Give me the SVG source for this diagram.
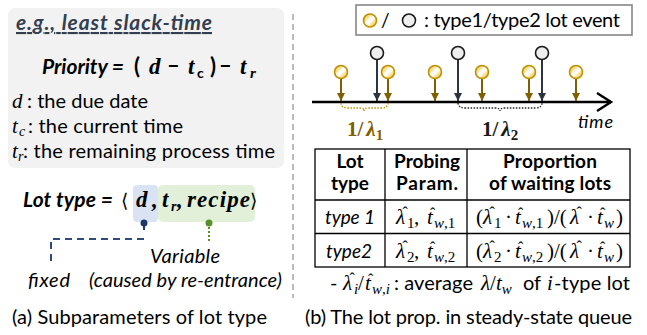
<svg xmlns="http://www.w3.org/2000/svg" width="647" height="335" viewBox="0 0 647 335">
<defs>
<style>
.sans{font-family:Lato,"Liberation Sans",sans-serif;fill:#000}
.bi{font-family:Lato,"Liberation Sans",sans-serif;font-weight:bold;font-style:italic}
.m{font-family:"Liberation Serif","DejaVu Serif",serif;font-style:italic}
.mb{font-family:"Liberation Serif","DejaVu Serif",serif;font-style:italic;font-weight:bold}
.up{font-style:normal}
.hat{font-size:16px;font-style:normal}
.sub{font-size:15px}
.grid{fill:none;stroke:#000;stroke-width:1.3}
.stem1{stroke:#7f6000;stroke-width:2;fill:none}
.stem2{stroke:#2b3440;stroke-width:2;fill:none}
.ev1{fill:url(#hatch);stroke:#bf9000;stroke-width:1.6}
.ev2{fill:#eeeeee;stroke:#1a1a1a;stroke-width:1.6}
</style>
<linearGradient id="hatch" x1="0" y1="0" x2="1" y2="1">
<stop offset="0" stop-color="#f3c94c"/>
<stop offset="0.3" stop-color="#fbe08c"/>
<stop offset="0.44" stop-color="#ffffff"/>
<stop offset="0.56" stop-color="#ffffff"/>
<stop offset="0.7" stop-color="#fbe08c"/>
<stop offset="1" stop-color="#f3c94c"/>
</linearGradient>
<marker id="h1" viewBox="0 0 10 10" refX="10" refY="5" markerWidth="10" markerHeight="8" markerUnits="userSpaceOnUse" orient="auto">
<path d="M0,0 L10,5 L0,10 z" fill="#7f6000"/>
</marker>
<marker id="h2" viewBox="0 0 10 10" refX="10" refY="5" markerWidth="10" markerHeight="8" markerUnits="userSpaceOnUse" orient="auto">
<path d="M0,0 L10,5 L0,10 z" fill="#2b3440"/>
</marker>
</defs>
<rect width="647" height="335" fill="#fff"/>

<!-- (a) priority rule box -->
<g id="priority-box">
<rect x="8" y="8" width="276" height="160" rx="7" fill="#f2f2f2"/>
<text x="16" y="30" class="bi" font-size="21" fill="#333f50" text-decoration="underline" textLength="196">e.g., least slack-time</text>
<text x="42" y="74" class="bi" font-size="21" textLength="82">Priority =</text>
<text x="134" y="74" class="sans" font-size="22" font-weight="bold">(</text>
<text x="149" y="74" class="mb" font-size="23">d</text>
<text x="167" y="73" class="sans" font-size="22" font-weight="bold">–</text>
<text x="188" y="74" class="mb" font-size="23">t</text>
<text x="197" y="78" class="sans" font-size="14" font-weight="bold">c</text>
<text x="210" y="74" class="sans" font-size="22" font-weight="bold">)</text>
<text x="219" y="73" class="sans" font-size="22" font-weight="bold">–</text>
<text x="240" y="74" class="mb" font-size="23">t</text>
<text x="250" y="78" class="mb" font-size="15">r</text>

<text x="12" y="108" class="m" font-size="21">d</text>
<text x="27" y="108" class="sans" font-size="20" textLength="121">: the due date</text>
<text x="12" y="133" class="m" font-size="21">t</text>
<text x="19" y="136" class="m" font-size="14">c</text>
<text x="28" y="133" class="sans" font-size="20" textLength="155">: the current time</text>
<text x="12" y="158" class="m" font-size="21">t</text>
<text x="18" y="161" class="m" font-size="14">r</text>
<text x="23" y="158" class="sans" font-size="20" textLength="252">: the remaining process time</text>
</g>

<!-- panel divider -->
<line x1="293" y1="14" x2="293" y2="298" stroke="#a6a6a6" stroke-width="1.5" stroke-dasharray="6,4"/>

<!-- (a) lot type tuple -->
<g id="lot-type">
<rect x="133" y="185" width="25" height="37" rx="4" fill="#dae3f3"/>
<rect x="158" y="185" width="97" height="37" rx="5" fill="#e2f0d9"/>
<text x="23" y="207" class="bi" font-size="21" textLength="90">Lot type =</text>
<text x="121" y="207" font-family="DejaVu Serif,serif" font-size="19">⟨</text>
<text x="136" y="207" class="mb" font-size="23">d</text>
<text x="152" y="207" class="mb" font-size="23">,</text>
<text x="162" y="207" class="mb" font-size="23">t</text>
<text x="171" y="211" class="mb" font-size="14">r</text>
<text x="177" y="207" class="mb" font-size="23">,</text>
<text x="187" y="207" class="mb" font-size="23" textLength="63">recipe</text>
<text x="250" y="207" font-family="DejaVu Serif,serif" font-size="19">⟩</text>
</g>

<g id="fixed-label">
<circle cx="144" cy="223" r="3.5" fill="#1f3864"/>
<line x1="144" y1="223" x2="144" y2="230" stroke="#1f3864" stroke-width="2"/>
<path d="M144,239 H51 V262" fill="none" stroke="#2f4b7c" stroke-width="2" stroke-dasharray="7,5"/>
<text x="28" y="287" class="sans" font-size="20" font-style="italic" fill="#2f4b7c" textLength="42">fixed</text>
</g>

<g id="variable-label">
<circle cx="209" cy="223" r="3.5" fill="#5b8f2e"/>
<line x1="209" y1="227" x2="209" y2="243" stroke="#5b8f2e" stroke-width="2" stroke-dasharray="2,2"/>
<text x="150" y="263" class="sans" font-size="20" font-style="italic" fill="#4f7a2d" textLength="70">Variable</text>
<text x="89" y="287" class="sans" font-size="20" font-style="italic" fill="#4f7a2d" textLength="193">(caused by re-entrance)</text>
</g>

<text x="12" y="324" class="sans" font-size="20" textLength="255">(a) Subparameters of lot type</text>

<!-- (b) legend -->
<g id="legend">
<rect x="356" y="5" width="276" height="30" fill="#fff" stroke="#7f7f7f" stroke-width="1.5"/>
<circle cx="370" cy="20.5" r="6.5" class="ev1"/>
<text x="381" y="27" class="sans" font-size="19">/</text>
<circle cx="409" cy="20.5" r="6.5" class="ev2"/>
<text x="424" y="27" class="sans" font-size="20" textLength="196">: type1/type2 lot event</text>
</g>

<!-- (b) arrival timeline -->
<g id="timeline">
<line x1="312" y1="102" x2="611" y2="102" stroke="#000" stroke-width="2.5"/>
<path d="M597,93 L611,102 L597,111" fill="none" stroke="#000" stroke-width="2.5"/>
<text x="578" y="128" class="sans" font-size="18" font-style="italic" textLength="35">time</text>
</g>

<g id="lot-events">
<line x1="341" y1="79" x2="341" y2="101" class="stem1" marker-end="url(#h1)"/>
<circle cx="341" cy="72" r="6.5" class="ev1"/>
<line x1="377" y1="60" x2="377" y2="101" class="stem2" marker-end="url(#h2)"/>
<circle cx="377" cy="53" r="6.5" class="ev2"/>
<line x1="388" y1="79" x2="388" y2="101" class="stem1" marker-end="url(#h1)"/>
<circle cx="388" cy="72" r="6.5" class="ev1"/>
<line x1="435" y1="79" x2="435" y2="101" class="stem1" marker-end="url(#h1)"/>
<circle cx="435" cy="72" r="6.5" class="ev1"/>
<line x1="458" y1="60" x2="458" y2="101" class="stem2" marker-end="url(#h2)"/>
<circle cx="458" cy="53" r="6.5" class="ev2"/>
<line x1="482" y1="79" x2="482" y2="101" class="stem1" marker-end="url(#h1)"/>
<circle cx="482" cy="72" r="6.5" class="ev1"/>
<line x1="529" y1="79" x2="529" y2="101" class="stem1" marker-end="url(#h1)"/>
<circle cx="529" cy="72" r="6.5" class="ev1"/>
<line x1="542" y1="60" x2="542" y2="101" class="stem2" marker-end="url(#h2)"/>
<circle cx="542" cy="53" r="6.5" class="ev2"/>
<line x1="576" y1="79" x2="576" y2="101" class="stem1" marker-end="url(#h1)"/>
<circle cx="576" cy="72" r="6.5" class="ev1"/>
</g>

<g id="intervals">
<path d="M341,103 Q341,108 348,108 H360 Q364,108 364,111 Q364,108 368,108 H381 Q388,108 388,103" fill="none" stroke="#bf9000" stroke-width="1.4" stroke-dasharray="1.5,1.5"/>
<path d="M458,103 Q458,108 466,108 H495 Q500,108 500,111 Q500,108 505,108 H535 Q542,108 542,103" fill="none" stroke="#222" stroke-width="1.4" stroke-dasharray="1.5,1.5"/>
<text x="347" y="136" class="mb" font-size="21" fill="#7f6000"><tspan class="up">1/</tspan><tspan dx="3">λ</tspan><tspan class="up" font-size="15" dy="4">1</tspan></text>
<text x="482" y="136" class="mb" font-size="21" fill="#1a1a1a"><tspan class="up">1/</tspan><tspan dx="3">λ</tspan><tspan class="up" font-size="15" dy="4">2</tspan></text>
</g>

<!-- (b) proportion table -->
<g id="table">
<rect x="315" y="149" width="315" height="118" class="grid"/>
<line x1="315" y1="200" x2="630" y2="200" class="grid"/>
<line x1="315" y1="233.5" x2="630" y2="233.5" class="grid"/>
<line x1="385" y1="149" x2="385" y2="267" class="grid"/>
<line x1="467" y1="149" x2="467" y2="267" class="grid"/>

<g class="sans" font-size="19" font-weight="bold" text-anchor="middle">
<text x="350" y="168">Lot</text>
<text x="350" y="190">type</text>
<text x="427" y="168" textLength="66">Probing</text>
<text x="427" y="190" textLength="62">Param.</text>
<text x="550" y="168" textLength="94">Proportion</text>
<text x="550" y="190" textLength="122">of waiting lots</text>
</g>

<text x="350" y="224" class="sans" font-size="19" font-style="italic" text-anchor="middle" textLength="50">type 1</text>
<text x="349" y="258" class="sans" font-size="19" font-style="italic" text-anchor="middle">type2</text>
</g>

<!-- probing parameters and waiting-lot proportions (hats placed over λ and t) -->
<g id="row-type1" class="m" font-size="21">
<text x="396" y="224">λ<tspan class="hat" x="402.5" y="218">ˆ</tspan><tspan class="up sub" x="407" y="228">1</tspan><tspan class="up" x="414" y="224">,</tspan><tspan x="427" y="224">t</tspan><tspan class="hat" x="430" y="219">ˆ</tspan><tspan class="sub" x="434" y="228">w<tspan class="up">,1</tspan></tspan></text>
<text x="476" y="224"><tspan class="up">(</tspan><tspan x="483" y="224">λ</tspan><tspan class="hat" x="489.5" y="218">ˆ</tspan><tspan class="up sub" x="494" y="228">1</tspan><tspan class="up" x="505" y="224">·</tspan><tspan x="515" y="224">t</tspan><tspan class="hat" x="518" y="219">ˆ</tspan><tspan class="sub" x="522" y="228">w<tspan class="up">,1</tspan></tspan><tspan class="up" x="547" y="224">)/(</tspan><tspan x="570" y="224">λ</tspan><tspan class="hat" x="576.5" y="218">ˆ</tspan><tspan class="up" x="587" y="224">·</tspan><tspan x="597" y="224">t</tspan><tspan class="hat" x="600" y="219">ˆ</tspan><tspan class="sub" x="604" y="228">w</tspan><tspan class="up" x="616" y="224">)</tspan></text>
</g>

<g id="row-type2" class="m" font-size="21">
<text x="396" y="258">λ<tspan class="hat" x="402.5" y="252">ˆ</tspan><tspan class="up sub" x="407" y="262">2</tspan><tspan class="up" x="414" y="258">,</tspan><tspan x="427" y="258">t</tspan><tspan class="hat" x="430" y="253">ˆ</tspan><tspan class="sub" x="434" y="262">w<tspan class="up">,2</tspan></tspan></text>
<text x="476" y="258"><tspan class="up">(</tspan><tspan x="483" y="258">λ</tspan><tspan class="hat" x="489.5" y="252">ˆ</tspan><tspan class="up sub" x="494" y="262">2</tspan><tspan class="up" x="505" y="258">·</tspan><tspan x="515" y="258">t</tspan><tspan class="hat" x="518" y="253">ˆ</tspan><tspan class="sub" x="522" y="262">w<tspan class="up">,2</tspan></tspan><tspan class="up" x="547" y="258">)/(</tspan><tspan x="570" y="258">λ</tspan><tspan class="hat" x="576.5" y="252">ˆ</tspan><tspan class="up" x="587" y="258">·</tspan><tspan x="597" y="258">t</tspan><tspan class="hat" x="600" y="253">ˆ</tspan><tspan class="sub" x="604" y="262">w</tspan><tspan class="up" x="616" y="258">)</tspan></text>
</g>

<g id="note">
<text x="330" y="290" class="sans" font-size="20">-</text>
<text x="343" y="290" class="m" font-size="21">λ<tspan class="hat" x="349.5" y="284">ˆ</tspan><tspan class="sub" x="354" y="294">i</tspan><tspan class="up" x="358" y="290">/</tspan><tspan x="365" y="290">t</tspan><tspan class="hat" x="368" y="285">ˆ</tspan><tspan class="sub" x="372" y="294">w<tspan class="up">,</tspan>i</tspan></text>
<text x="394" y="290" class="sans" font-size="20" textLength="79">: average</text>
<text x="481" y="290" class="m" font-size="21">λ<tspan class="up">/</tspan>t<tspan font-size="15" dy="4">w</tspan></text>
<text x="523" y="290" class="sans" font-size="20">of</text>
<text x="547" y="290" class="m" font-size="21">i</text>
<text x="554" y="290" class="sans" font-size="20" textLength="76">-type lot</text>
</g>

<text x="305" y="324" class="sans" font-size="20" textLength="327">(b) The lot prop. in steady-state queue</text>
</svg>
